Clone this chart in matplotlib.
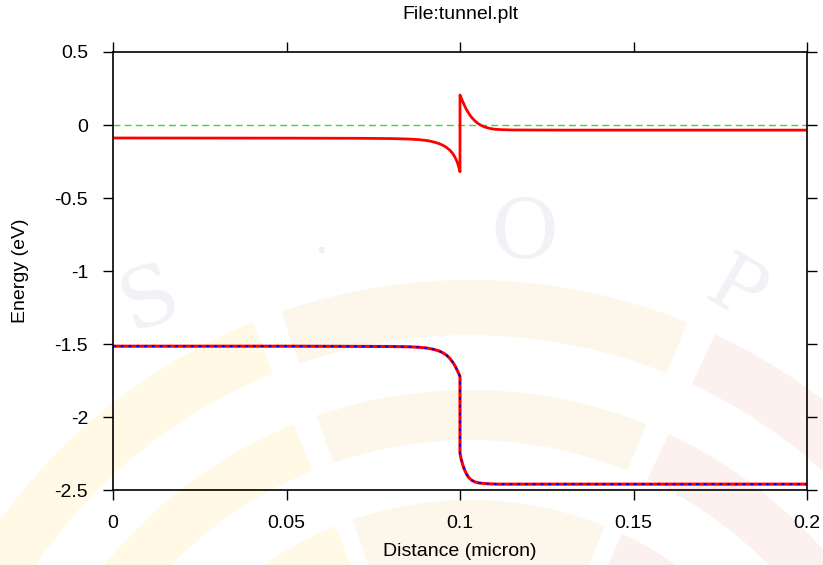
import matplotlib
matplotlib.use("Agg")
import matplotlib.pyplot as plt
from matplotlib.patches import Wedge

plt.rcParams['font.family'] = ['Liberation Sans', 'DejaVu Sans']

# Banda de conduccion (eV) vs distancia (micron)
x_cb = [0, 0.05, 0.07, 0.08, 0.085, 0.088, 0.09, 0.0915, 0.093, 0.094, 0.095,
        0.096, 0.097, 0.0978, 0.0985, 0.0991, 0.0996, 0.1,
        0.1, 0.1003, 0.1008, 0.1014, 0.102, 0.1027, 0.1035, 0.1043, 0.1052,
        0.1062, 0.1073, 0.1085, 0.11, 0.112, 0.115, 0.13, 0.2]
e_cb = [-0.089, -0.09, -0.091, -0.093, -0.096, -0.1, -0.105, -0.111, -0.12, -0.128,
        -0.138, -0.152, -0.171, -0.192, -0.218, -0.248, -0.284, -0.32,
        0.205, 0.188, 0.16, 0.128, 0.1, 0.073, 0.048, 0.028, 0.01,
        -0.004, -0.015, -0.023, -0.029, -0.032, -0.034, -0.035, -0.035]

# Banda de valencia (eV)
x_vb = [0, 0.05, 0.08, 0.085, 0.088, 0.0905, 0.0923, 0.094, 0.0952, 0.0962,
        0.0971, 0.098, 0.0988, 0.0995, 0.1,
        0.1, 0.1003, 0.1007, 0.1012, 0.1018, 0.1025, 0.1033, 0.1042, 0.1053,
        0.1067, 0.1085, 0.111, 0.2]
e_vb = [-1.515, -1.515, -1.517, -1.519, -1.522, -1.528, -1.536, -1.548, -1.562,
        -1.578, -1.6, -1.628, -1.66, -1.695, -1.724,
        -2.249, -2.285, -2.32, -2.355, -2.388, -2.414, -2.432, -2.444, -2.451,
        -2.455, -2.458, -2.46, -2.46]

# Nivel de Fermi
x_ef = [0, 0.2]
e_ef = [0, 0]

fig = plt.figure(figsize=(8.23, 5.65), dpi=100)

# marca de agua tenue de fondo
bg = fig.add_axes([0, 0, 1, 1], zorder=-1)
bg.set_xlim(0, 823)
bg.set_ylim(565, 0)
bg.axis('off')
cx, cy = 470, 860
for r, w in [(580, 55, ), (470, 50), (360, 70)]:
    bg.add_patch(Wedge((cx, cy), r, 190, 248, width=w, color='#fff9e6', lw=0))
    bg.add_patch(Wedge((cx, cy), r, 251, 292, width=w, color='#fdf6ea', lw=0))
    bg.add_patch(Wedge((cx, cy), r, 295, 345, width=w, color='#fcf1ee', lw=0))
bg.text(150, 300, 'S', fontsize=60, family='DejaVu Serif', color='#f1f1f6',
        ha='center', va='center', rotation=20)
bg.text(322, 265, '.', fontsize=40, color='#eeeef4', ha='center', va='bottom')
bg.text(525, 235, 'O', fontsize=60, family='DejaVu Serif', color='#f1f1f6',
        ha='center', va='center')
bg.text(735, 292, 'P', fontsize=56, family='DejaVu Serif', color='#f1f1f6',
        ha='center', va='center', rotation=-30)

ax = fig.add_axes([113/823, 75/565, 694/823, 438/565])
ax.patch.set_alpha(0)
ax.plot(x_ef, e_ef, color='#33dd33', lw=1, dashes=(5, 3))
ax.plot(x_cb, e_cb, color='red', lw=2)
ax.plot(x_vb, e_vb, color='red', lw=2.2)
ax.plot(x_vb, e_vb, color='blue', lw=1.4, dashes=(1.5, 2.5))

ax.set_xlim(0, 0.2)
ax.set_ylim(-2.5, 0.5)
ax.set_xticks([0, 0.05, 0.1, 0.15, 0.2])
ax.set_xticklabels(['0', '0.05', '0.1', '0.15', '0.2'])
ax.set_yticks([0.5, 0, -0.5, -1, -1.5, -2, -2.5])
ax.set_yticklabels(['0.5', '0', '-0.5', '-1', '-1.5', '-2', '-2.5'])
ax.tick_params(direction='out', length=7, width=1, top=True, right=True,
               labelsize=14)
ax.tick_params(axis='x', pad=11)
ax.tick_params(axis='y', pad=11)
for s in ax.spines.values():
    s.set_linewidth(1.2)
ax.set_title('File:tunnel.plt', fontsize=14, pad=24)
ax.set_xlabel('Distance (micron)', fontsize=14, labelpad=8)
ax.set_ylabel('Energy (eV)', fontsize=14, labelpad=18)

fig.savefig('out.png', dpi=100)
